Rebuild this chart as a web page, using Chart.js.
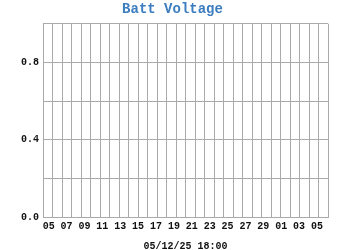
<!DOCTYPE html>
<html>
<head>
<meta charset="utf-8">
<script src="https://cdn.jsdelivr.net/npm/chart.js@4"></script>
<style>
  html, body { margin: 0; padding: 0; background: #fff; }
  #wrap { width: 350px; height: 250px; }
</style>
</head>
<body>
<div id="wrap"><canvas id="battChart"></canvas></div>
<script>
// day labels under the axis (every 2nd day, month rolls over after 29)
const dayLabels = ['05', '07', '09', '11', '13', '15', '17', '19', '21', '23', '25', '27', '29', '01', '03', '05'];
// one grid column per day
const dayCount = 30;
// no readings in this window
const voltage = [];
const yShown = [0, 0.4, 0.8];
const xTitle = '05/12/25 18:00';

const mono = 'Liberation Mono, Courier New, monospace';
const gridColor = '#aaaaaa';

const ctx = document.getElementById('battChart').getContext('2d');
var chart = new Chart(ctx, {
    type: 'line',
    data: {
        datasets: [{
            label: 'Batt Voltage',
            borderColor: '#3b7dbf',
            fill: false,
            data: voltage,
        }],
    },
    options: {
        responsive: true,
        maintainAspectRatio: false,
        animation: false,
        layout: { padding: { left: 17, right: 22, top: 0, bottom: -2 } },
        plugins: {
            legend: { display: false },
            tooltip: { enabled: false },
            title: {
                display: true,
                text: 'Batt Voltage',
                color: '#3b7dbf',
                font: { family: mono, size: 14, weight: 'bold' },
                padding: { top: 1, bottom: 6 },
            },
        },
        scales: {
            x: {
                type: 'linear',
                position: 'bottom',
                min: 0,
                max: dayCount,
                ticks: { display: false, stepSize: 1 },
                grid: { color: gridColor, drawTicks: false },
                border: { color: gridColor },
            },
            days: {
                type: 'linear',
                position: 'bottom',
                min: -0.32,
                max: dayLabels.length - 1 + 0.62,
                afterBuildTicks: function(scale) {
                    scale.ticks = dayLabels.map((d, i) => ({ value: i }));
                },
                ticks: {
                    autoSkip: false,
                    maxRotation: 0,
                    padding: -5,
                    color: '#111',
                    font: { family: mono, size: 10, weight: 'bold' },
                    callback: function(value) {
                        return dayLabels[value];
                    },
                },
                grid: { display: false },
                border: { display: false },
                title: {
                    display: true,
                    text: xTitle,
                    color: '#111',
                    font: { family: mono, size: 10, weight: 'bold' },
                    padding: { top: 13, bottom: 0 },
                },
            },
            y: {
                min: 0,
                max: 1,
                ticks: {
                    stepSize: 0.2,
                    padding: 4,
                    color: '#111',
                    font: { family: mono, size: 10, weight: 'bold' },
                    callback: function(value) {
                        const hit = yShown.some(v => Math.abs(v - value) < 1e-6);
                        return hit ? value.toFixed(1) : '';
                    },
                },
                grid: { color: gridColor, drawTicks: false },
                border: { color: gridColor },
            },
        },
    },
});
</script>
</body>
</html>
